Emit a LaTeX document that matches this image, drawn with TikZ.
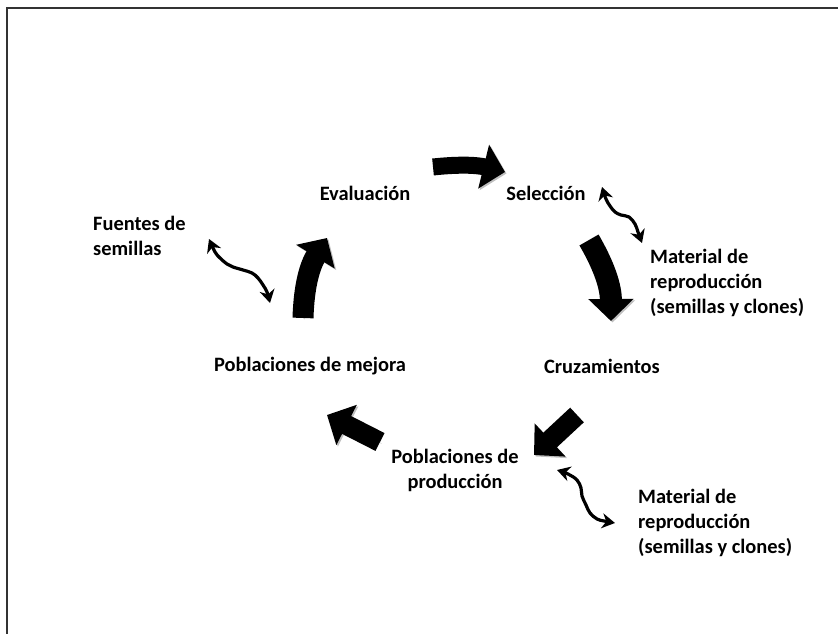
\documentclass[tikz,border=0pt]{standalone}
\usepackage{fontspec}
\setmainfont{Carlito}
\usetikzlibrary{arrows.meta,positioning}

\tikzset{
  lbl/.style={font=\fontsize{20.5}{25}\selectfont\bfseries, inner sep=0pt},
  bigarrow/.style={line width=#1, -{Triangle[width=44bp,length=22bp]},
    preaction={draw=black!25, transform canvas={shift={(1.5bp,-1.5bp)}}}},
  bigarrow/.default=20bp,
  wavy/.style={line width=3.2bp, line join=round,
    {Stealth[length=13bp,width=15bp]}-{Stealth[length=13bp,width=15bp]}},
}

\begin{document}
\begin{tikzpicture}[x=1bp,y=1bp]
      \useasboundingbox (0,0) rectangle (838,634);
      \draw[line width=2.5bp, black!80] (7,0) -- (7,626) -- (838,626);

      % etapas del ciclo
      \node[lbl] (eval) at (365,441) {Evaluación};
      \node[lbl] (sel) at (546,441) {Selección};
      \node[lbl] (cruz) at (602,268) {Cruzamientos};
      \node[lbl, align=center] (prod) at (455,164) {Poblaciones de\\producción};
      \node[lbl] (mejora) at (310,268) {Poblaciones de mejora};

      % fuentes y material
      \node[lbl, align=left, anchor=west] (fuentes) at (93,398) {Fuentes de\\semillas};
      \node[lbl, align=left, anchor=west] (mat1) at (650,351) {Material de\\reproducción\\(semillas y clones)};
      \node[lbl, align=left, anchor=west] (mat2) at (638,111) {Material de\\reproducción\\(semillas y clones)};

      % flechas gruesas
      \coordinate (a1) at (433,467); \coordinate (b1) at (505,462);
      \coordinate (a2) at (589,394); \coordinate (b2) at (611,313);
      \coordinate (a3) at (577,219); \coordinate (b3) at (534,179);
      \coordinate (a4) at (380,192); \coordinate (b4) at (327,219);
      \coordinate (a5) at (303,316); \coordinate (b5) at (327,396);
      \draw[bigarrow=17bp] (a1) to[bend left=10] (b1);
      \draw[bigarrow=22bp] (a2) to[bend left=15] (b2);
      \draw[bigarrow=20bp] (a3) -- (b3);
      \draw[bigarrow=20bp] (a4) -- (b4);
      \draw[bigarrow=21bp] (a5) to[bend left=15] (b5);

      % flechas onduladas
      \coordinate (w1a) at (209,395); \coordinate (w1b) at (270,331);
      \coordinate (w2a) at (602,447); \coordinate (w2b) at (642,391);
      \coordinate (w3a) at (557,164); \coordinate (w3b) at (615,111);
      \draw[wavy] plot[smooth, tension=0.6] coordinates {(w1a) (215,382) (220,376) (227,370) (233,367) (243,364) (252,361) (258,356) (263,349) (267,342) (w1b)};
      \draw[wavy] plot[smooth, tension=0.6] coordinates {(w2a) (606,435) (610,428) (615,422) (621,419) (629,417) (635,410) (638,402) (w2b)};
      \draw[wavy] plot[smooth, tension=0.6] coordinates {(w3a) (568,160) (577,154) (581,146) (582,138) (586,129) (590,121) (597,115) (604,113) (w3b)};
\end{tikzpicture}
\end{document}
